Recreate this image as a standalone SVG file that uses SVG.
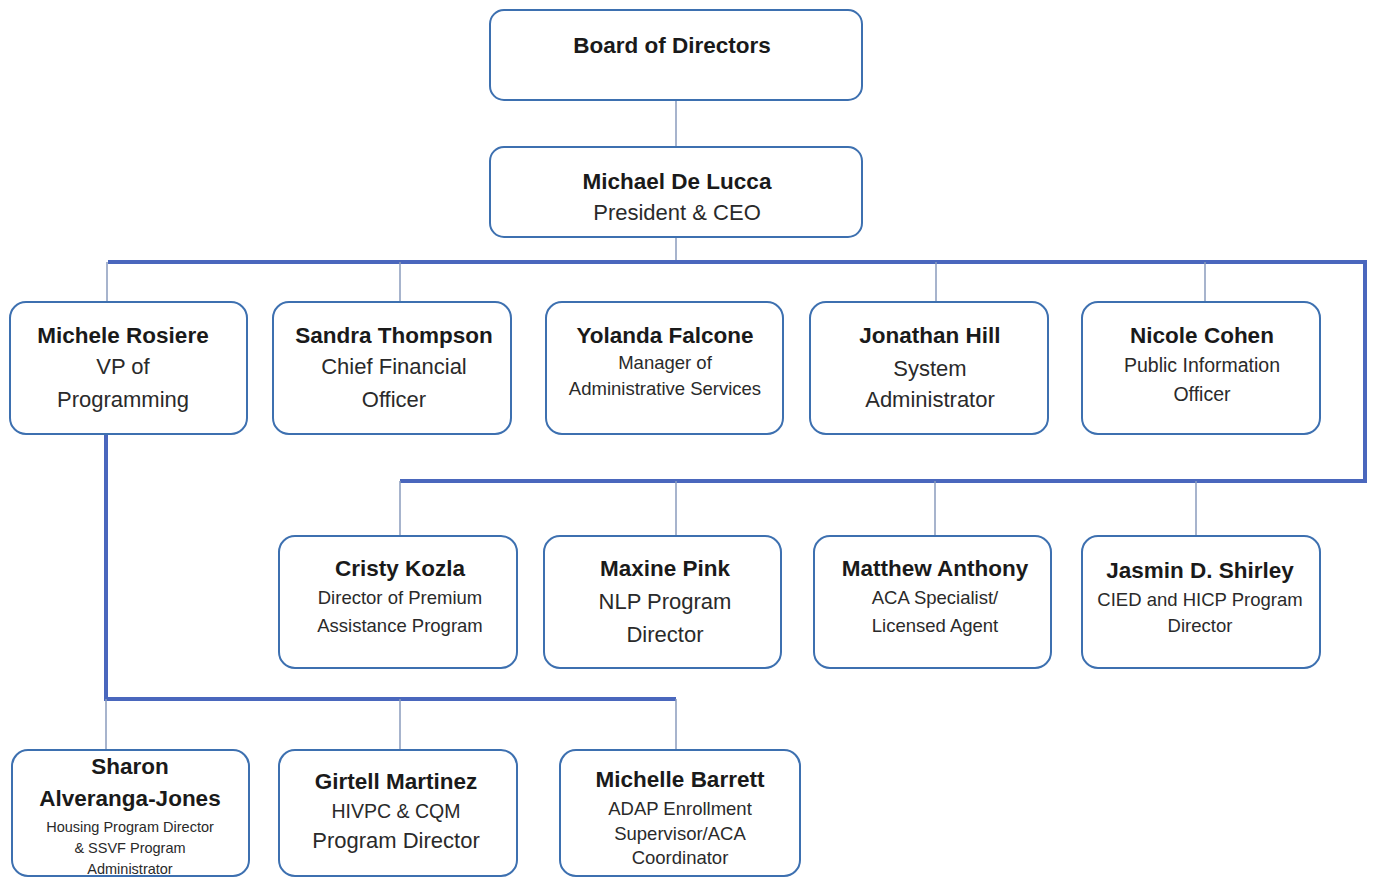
<svg xmlns="http://www.w3.org/2000/svg" width="1374" height="878" viewBox="0 0 1374 878">
<style>
.box{fill:#fff;stroke:#3d70b0;stroke-width:2}
.thin{stroke:#8a9bbd;stroke-width:1.5;fill:none}
.thick{stroke:#4a67bd;stroke-width:4;fill:none}
text{font-family:"Liberation Sans",Arial,sans-serif;text-anchor:middle;fill:#1a1a1a}
.n{font-weight:bold;font-size:22.5px}
.t{font-size:22px;fill:#2a2a2a}
.m{font-size:19.5px;fill:#2a2a2a}
.s{font-size:18.5px;fill:#2a2a2a}
.xs{font-size:14.5px;fill:#2a2a2a}
</style>
<rect width="1374" height="878" fill="#fff"/>
<g id="connectors">
<line class="thin" x1="676" y1="100" x2="676" y2="147"/>
<line class="thin" x1="676" y1="237" x2="676" y2="262"/>
<polyline class="thick" points="108,262 1365,262 1365,481 400,481"/>
<line class="thin" x1="107" y1="262" x2="107" y2="302"/>
<line class="thin" x1="400" y1="262" x2="400" y2="302"/>
<line class="thin" x1="936" y1="262" x2="936" y2="302"/>
<line class="thin" x1="1205" y1="262" x2="1205" y2="302"/>
<line class="thin" x1="400" y1="481" x2="400" y2="536"/>
<line class="thin" x1="676" y1="481" x2="676" y2="536"/>
<line class="thin" x1="935" y1="481" x2="935" y2="536"/>
<line class="thin" x1="1196" y1="481" x2="1196" y2="536"/>
<polyline class="thick" points="106,434 106,699 676,699"/>
<line class="thin" x1="106" y1="699" x2="106" y2="750"/>
<line class="thin" x1="400" y1="699" x2="400" y2="750"/>
<line class="thin" x1="676" y1="699" x2="676" y2="750"/>
</g>
<g id="board"><rect class="box" x="490" y="10" width="372" height="90" rx="14"/>
<text class="n" x="672" y="53">Board of Directors</text></g>
<g id="ceo"><rect class="box" x="490" y="147" width="372" height="90" rx="14"/>
<text class="n" x="677" y="189">Michael De Lucca</text>
<text class="t" x="677" y="220">President &amp; CEO</text></g>
<g id="michele"><rect class="box" x="10" y="302" width="237" height="132" rx="16"/>
<text class="n" x="123" y="343">Michele Rosiere</text>
<text class="t" x="123" y="374">VP of</text>
<text class="t" x="123" y="407">Programming</text></g>
<g id="sandra"><rect class="box" x="273" y="302" width="238" height="132" rx="16"/>
<text class="n" x="394" y="343">Sandra Thompson</text>
<text class="t" x="394" y="374">Chief Financial</text>
<text class="t" x="394" y="407">Officer</text></g>
<g id="yolanda"><rect class="box" x="546" y="302" width="237" height="132" rx="16"/>
<text class="n" x="665" y="343">Yolanda Falcone</text>
<text class="s" x="665" y="369">Manager of</text>
<text class="s" x="665" y="395">Administrative Services</text></g>
<g id="jonathan"><rect class="box" x="810" y="302" width="238" height="132" rx="16"/>
<text class="n" x="930" y="343">Jonathan Hill</text>
<text class="t" x="930" y="376">System</text>
<text class="t" x="930" y="407">Administrator</text></g>
<g id="nicole"><rect class="box" x="1082" y="302" width="238" height="132" rx="16"/>
<text class="n" x="1202" y="343">Nicole Cohen</text>
<text class="m" x="1202" y="372">Public Information</text>
<text class="m" x="1202" y="401">Officer</text></g>
<g id="cristy"><rect class="box" x="279" y="536" width="238" height="132" rx="16"/>
<text class="n" x="400" y="576">Cristy Kozla</text>
<text class="s" x="400" y="604">Director of Premium</text>
<text class="s" x="400" y="632">Assistance Program</text></g>
<g id="maxine"><rect class="box" x="544" y="536" width="237" height="132" rx="16"/>
<text class="n" x="665" y="576">Maxine Pink</text>
<text class="t" x="665" y="609">NLP Program</text>
<text class="t" x="665" y="642">Director</text></g>
<g id="matthew"><rect class="box" x="814" y="536" width="237" height="132" rx="16"/>
<text class="n" x="935" y="576">Matthew Anthony</text>
<text class="s" x="935" y="604">ACA Specialist/</text>
<text class="s" x="935" y="632">Licensed Agent</text></g>
<g id="jasmin"><rect class="box" x="1082" y="536" width="238" height="132" rx="16"/>
<text class="n" x="1200" y="578">Jasmin D. Shirley</text>
<text class="s" x="1200" y="606">CIED and HICP Program</text>
<text class="s" x="1200" y="632">Director</text></g>
<g id="sharon"><rect class="box" x="12" y="750" width="237" height="126" rx="16"/>
<text class="n" x="130" y="774">Sharon</text>
<text class="n" x="130" y="806">Alveranga-Jones</text>
<text class="xs" x="130" y="832">Housing Program Director</text>
<text class="xs" x="130" y="853">&amp; SSVF Program</text>
<text class="xs" x="130" y="874">Administrator</text></g>
<g id="girtell"><rect class="box" x="279" y="750" width="238" height="126" rx="16"/>
<text class="n" x="396" y="789">Girtell Martinez</text>
<text class="m" x="396" y="818">HIVPC &amp; CQM</text>
<text class="t" x="396" y="848">Program Director</text></g>
<g id="michelle"><rect class="box" x="560" y="750" width="240" height="126" rx="16"/>
<text class="n" x="680" y="787">Michelle Barrett</text>
<text class="s" x="680" y="815">ADAP Enrollment</text>
<text class="s" x="680" y="840">Supervisor/ACA</text>
<text class="s" x="680" y="864">Coordinator</text></g>
</svg>
